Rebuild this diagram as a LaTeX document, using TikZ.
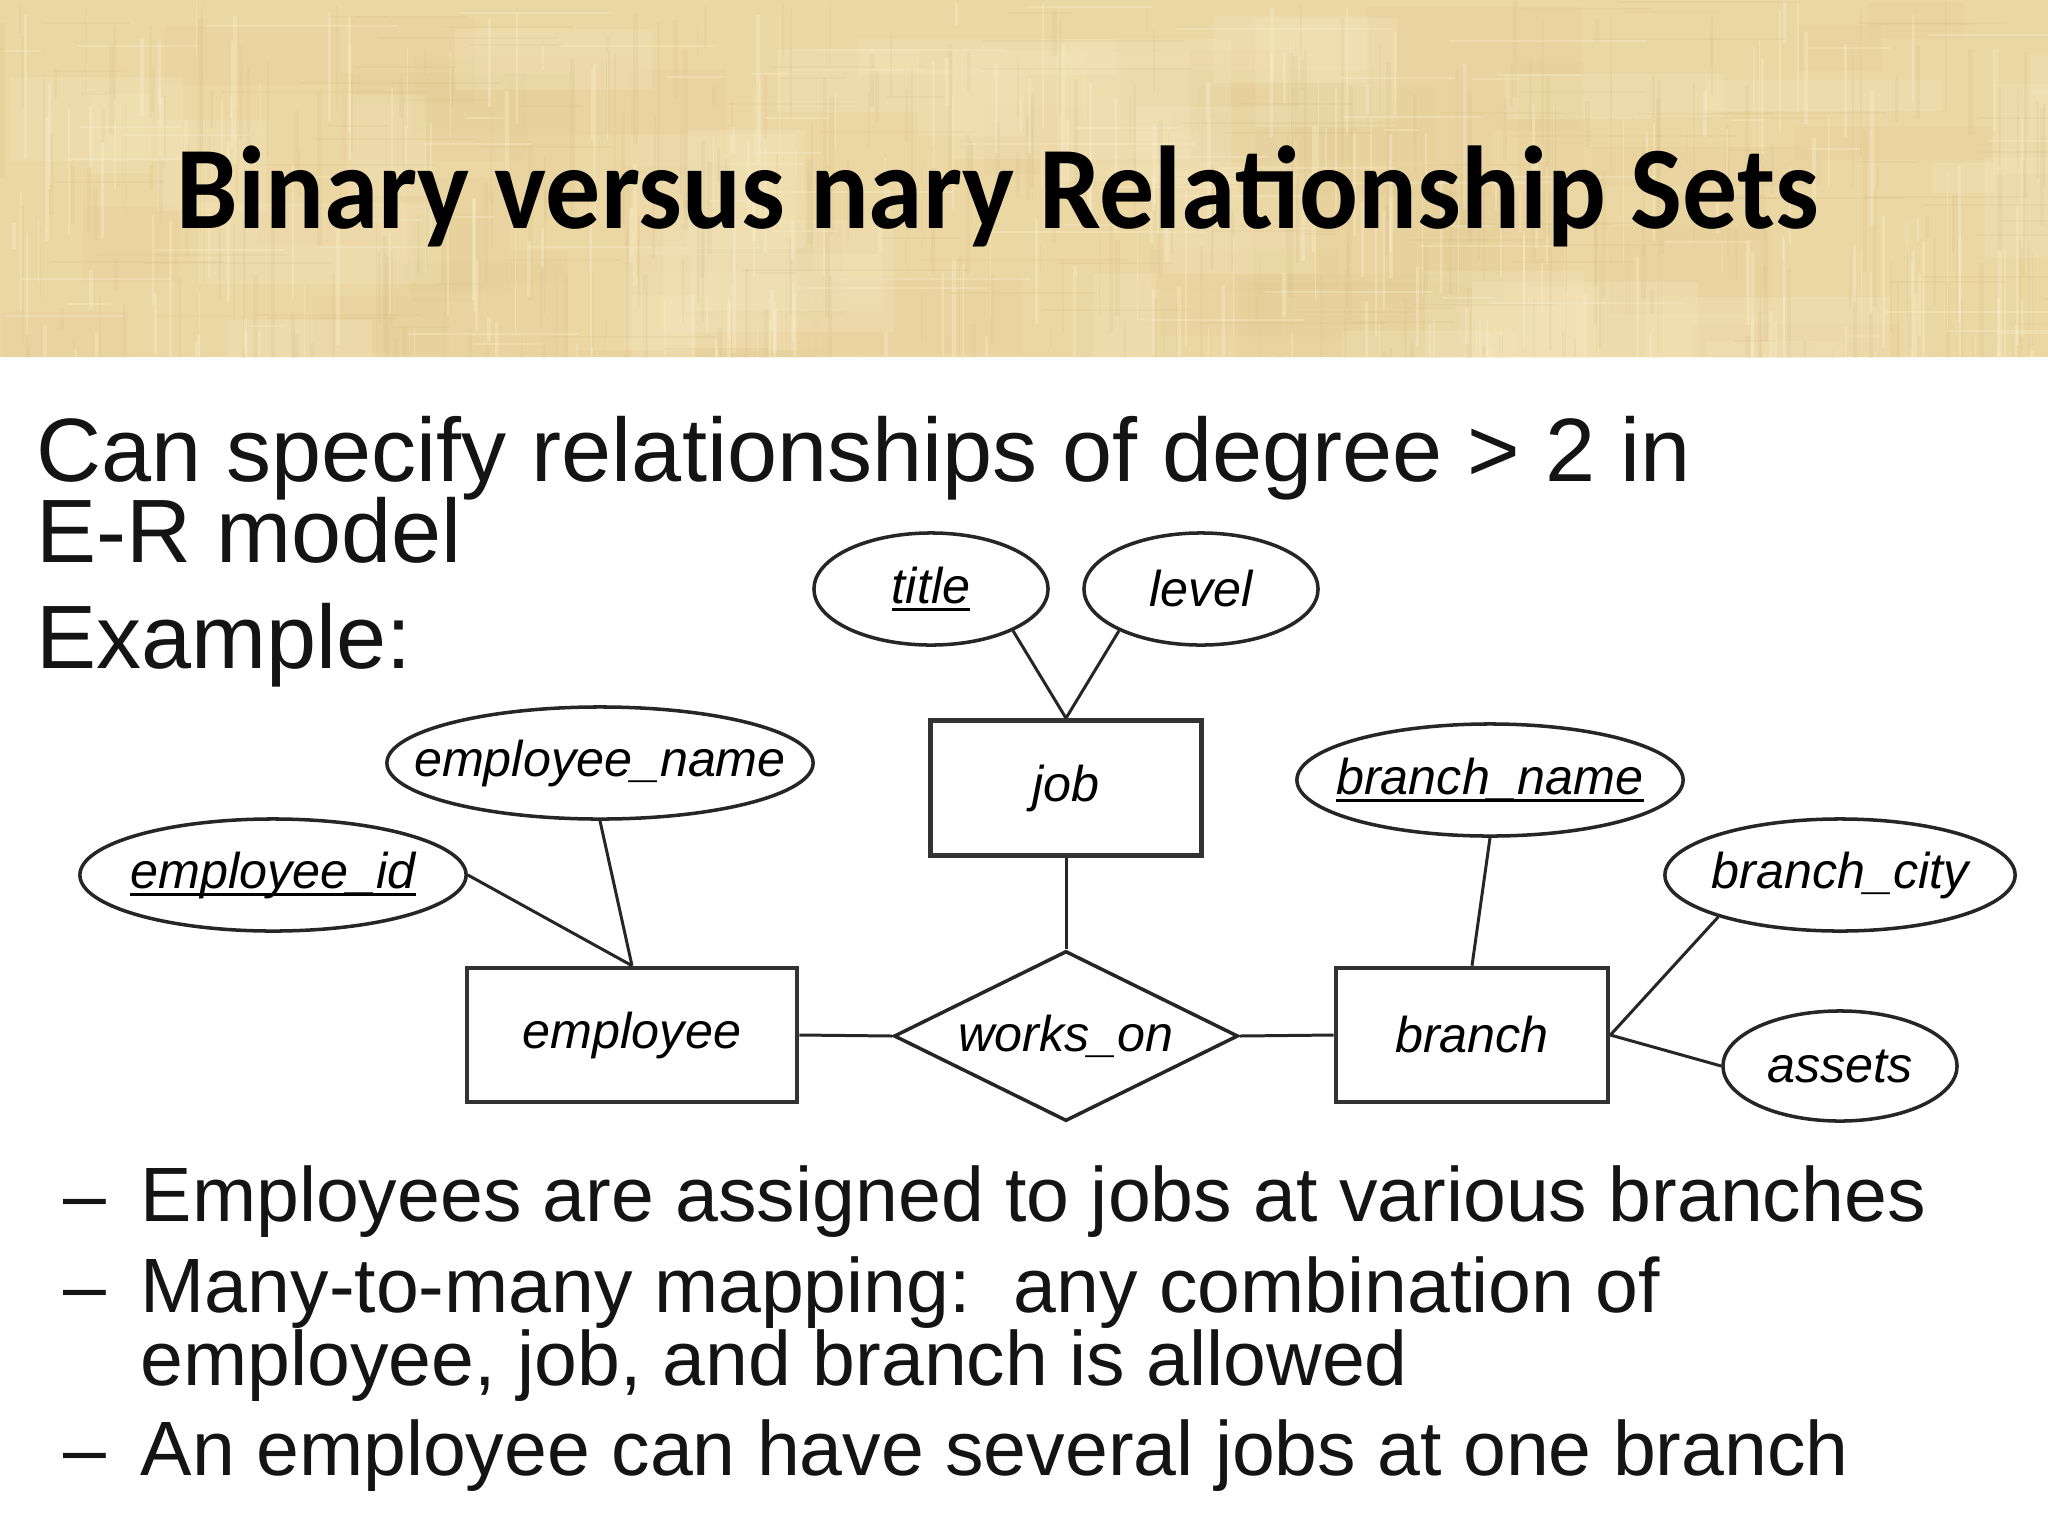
\documentclass[tikz,border=0pt]{standalone}
\usepackage{fontspec}
\setmainfont{Liberation Sans}
\newfontfamily\titlefont{Carlito}
\usetikzlibrary{shapes.geometric}
\definecolor{papyrus}{RGB}{235,215,164}
\definecolor{papdark}{RGB}{205,178,118}
\definecolor{paplight}{RGB}{248,236,200}
\newcommand\keyul[1]{\setbox0\hbox{#1}\rlap{\rule[-2.2pt]{\wd0}{0.9pt}}\box0}
\begin{document}
\begin{tikzpicture}[x=0.01cm,y=-0.01cm,
  erfont/.style={font=\itshape\fontsize{14.3}{17}\selectfont},
  attr/.style={draw=black!85, line width=1pt, ellipse, inner sep=0pt, erfont},
  entity/.style={draw=black!80, line width=1.3pt, rectangle, inner sep=0pt, erfont},
  rel/.style={draw=black!85, line width=1pt, diamond, inner sep=0pt, erfont},
  link/.style={draw=black!85, line width=0.85pt},
  body/.style={anchor=base west, inner sep=0pt, font=\fontsize{25.6}{30}\selectfont, text=black!92},
  bullet/.style={anchor=base west, inner sep=0pt, font=\fontsize{21.9}{26}\selectfont, text=black!92},
]
\useasboundingbox (0,0) rectangle (2048,1536);
\fill[white] (0,0) rectangle (2048,1536);
% papyrus header band
\begin{scope}
\clip (0,0) rectangle (2048,357);
\fill[papyrus] (0,0) rectangle (2048,357);
\pgfmathsetseed{11}
\foreach \i in {1,...,45}{
  \pgfmathsetmacro{\xa}{rnd*2048}
  \pgfmathsetmacro{\ya}{rnd*357}
  \pgfmathsetmacro{\ww}{60+rnd*200}
  \pgfmathsetmacro{\hh}{30+rnd*120}
  \fill[papdark, opacity=0.06] (\xa,\ya) rectangle ++(\ww,\hh);
}
\foreach \i in {1,...,35}{
  \pgfmathsetmacro{\xa}{rnd*2048}
  \pgfmathsetmacro{\ya}{rnd*357}
  \pgfmathsetmacro{\ww}{60+rnd*200}
  \pgfmathsetmacro{\hh}{30+rnd*120}
  \fill[paplight, opacity=0.2] (\xa,\ya) rectangle ++(\ww,\hh);
}
\foreach \i in {1,...,320}{
  \pgfmathsetmacro{\xa}{rnd*2048}
  \pgfmathsetmacro{\ya}{rnd*357}
  \pgfmathsetmacro{\ww}{1+rnd*4}
  \pgfmathsetmacro{\hh}{20+rnd*140}
  \fill[papdark, opacity=0.13] (\xa,\ya) rectangle ++(\ww,\hh);
}
\foreach \i in {1,...,260}{
  \pgfmathsetmacro{\xa}{rnd*2048}
  \pgfmathsetmacro{\ya}{rnd*357}
  \pgfmathsetmacro{\ww}{1+rnd*3}
  \pgfmathsetmacro{\hh}{20+rnd*140}
  \fill[paplight, opacity=0.4] (\xa,\ya) rectangle ++(\ww,\hh);
}
\foreach \i in {1,...,90}{
  \pgfmathsetmacro{\xa}{rnd*2048}
  \pgfmathsetmacro{\ya}{rnd*357}
  \pgfmathsetmacro{\ww}{30+rnd*200}
  \fill[papdark, opacity=0.12] (\xa,\ya) rectangle ++(\ww,2);
}
\foreach \i in {1,...,70}{
  \pgfmathsetmacro{\xa}{rnd*2048}
  \pgfmathsetmacro{\ya}{rnd*357}
  \pgfmathsetmacro{\ww}{30+rnd*200}
  \fill[paplight, opacity=0.35] (\xa,\ya) rectangle ++(\ww,2);
}
\end{scope}
% heading
\node[anchor=base west, inner sep=0pt, font=\titlefont\bfseries\fontsize{33.5}{40}\selectfont] (heading) at (176,228) {\scalebox{0.932}[1]{Binary versus nary Relationship Sets}};
% intro text
\node[body] (l1) at (36,481) {Can specify relationships of degree > 2 in};
\node[body] (l2) at (36,562) {E-R model};
\node[body] (l3) at (36,668) {Example:};
% bullets
\node[bullet] (d1) at (63,1221) {–};
\node[bullet] (b1) at (140,1221) {Employees are assigned to jobs at various branches};
\node[bullet] (d2) at (63,1312) {–};
\node[bullet] (b2) at (140,1312) {Many-to-many mapping:\ \ any combination of};
\node[bullet] (b3) at (140,1385) {employee, job, and branch is allowed};
\node[bullet] (d4) at (63,1475) {–};
\node[bullet] (b4) at (140,1475) {An employee can have several jobs at one branch};
% E-R diagram
\node[attr, minimum width=2.34cm, minimum height=1.12cm] (title) at (931,589) {\makebox[0pt]{\keyul{title}}};
\node[attr, minimum width=2.34cm, minimum height=1.12cm] (level) at (1201,589) {\makebox[0pt]{level}};
\node[entity, minimum width=2.71cm, minimum height=1.35cm] (job) at (1066,788) {job};
\node[attr, minimum width=4.26cm, minimum height=1.12cm] (empname) at (600,763) {\makebox[0pt]{employee\_name}};
\node[attr, minimum width=3.86cm, minimum height=1.12cm] (empid) at (273,875) {\makebox[0pt]{\keyul{employee\_id}}};
\node[entity, minimum width=3.30cm, minimum height=1.34cm] (employee) at (632,1035) {employee};
\node[rel, minimum width=3.44cm, minimum height=1.70cm] (workson) at (1066,1036) {\makebox[0pt]{works\_on}};
\node[entity, minimum width=2.72cm, minimum height=1.34cm] (branch) at (1472,1035) {branch};
\node[attr, minimum width=3.86cm, minimum height=1.12cm] (brname) at (1490,780) {\makebox[0pt]{\keyul{branch\_name}}};
\node[attr, minimum width=3.50cm, minimum height=1.12cm] (brcity) at (1840,875) {\makebox[0pt]{branch\_city}};
\node[attr, minimum width=2.34cm, minimum height=1.10cm] (assets) at (1840,1066) {\makebox[0pt]{assets}};
% connectors
\draw[link] (title.-27) -- (job.north);
\draw[link] (level.-153) -- (job.north);
\draw[link] (empname.south) -- (employee.north);
\draw[link] (empid.east) -- (employee.north);
\draw[link] (job.south) -- (workson.north);
\draw[link] (employee.east) -- (workson.west);
\draw[link] (workson.east) -- (branch.west);
\draw[link] (brname.south) -- (branch.north);
\draw[link] (brcity.-161) -- (branch.east);
\draw[link] (assets.west) -- (branch.east);
\end{tikzpicture}
\end{document}
